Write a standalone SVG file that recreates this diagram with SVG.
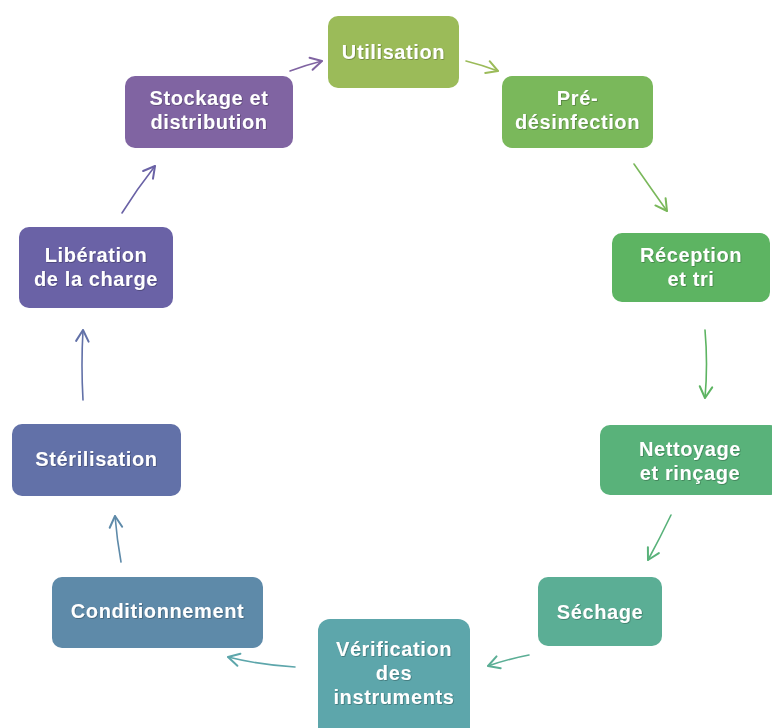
<svg xmlns="http://www.w3.org/2000/svg" width="772" height="728" viewBox="0 0 772 728">
<defs>
<style>
.box{stroke:none}
.lbl{font-family:"Liberation Sans",Arial,sans-serif;font-weight:bold;font-size:20px;letter-spacing:0.6px;fill:#ffffff;text-anchor:middle;filter:url(#sh)}
.c{fill:none;stroke-width:1.6;stroke-linecap:round}
</style>
<filter id="sh" x="-10%" y="-30%" width="120%" height="160%">
<feDropShadow dx="0.7" dy="0.7" stdDeviation="0.6" flood-color="#000" flood-opacity="0.35"/>
</filter>
<marker id="mPurple" markerUnits="userSpaceOnUse" markerWidth="20" markerHeight="20" refX="0" refY="0" viewBox="-12 -8 14 16" orient="auto"><path d="M-9,-5 L0,0 L-9,5" fill="none" stroke="#8064A2" stroke-width="1.6" stroke-linecap="round" stroke-linejoin="round"/></marker>
<marker id="mOlive" markerUnits="userSpaceOnUse" markerWidth="20" markerHeight="20" refX="0" refY="0" viewBox="-12 -8 14 16" orient="auto"><path d="M-9,-5 L0,0 L-9,5" fill="none" stroke="#9BBB59" stroke-width="1.6" stroke-linecap="round" stroke-linejoin="round"/></marker>
<marker id="mGreen1" markerUnits="userSpaceOnUse" markerWidth="20" markerHeight="20" refX="0" refY="0" viewBox="-12 -8 14 16" orient="auto"><path d="M-9,-5 L0,0 L-9,5" fill="none" stroke="#7AB85B" stroke-width="1.6" stroke-linecap="round" stroke-linejoin="round"/></marker>
<marker id="mGreen2" markerUnits="userSpaceOnUse" markerWidth="20" markerHeight="20" refX="0" refY="0" viewBox="-12 -8 14 16" orient="auto"><path d="M-9,-5 L0,0 L-9,5" fill="none" stroke="#5DB462" stroke-width="1.6" stroke-linecap="round" stroke-linejoin="round"/></marker>
<marker id="mGreen3" markerUnits="userSpaceOnUse" markerWidth="20" markerHeight="20" refX="0" refY="0" viewBox="-12 -8 14 16" orient="auto"><path d="M-9,-5 L0,0 L-9,5" fill="none" stroke="#59B27A" stroke-width="1.6" stroke-linecap="round" stroke-linejoin="round"/></marker>
<marker id="mTeal1" markerUnits="userSpaceOnUse" markerWidth="20" markerHeight="20" refX="0" refY="0" viewBox="-12 -8 14 16" orient="auto"><path d="M-9,-5 L0,0 L-9,5" fill="none" stroke="#5BAE95" stroke-width="1.6" stroke-linecap="round" stroke-linejoin="round"/></marker>
<marker id="mTeal2" markerUnits="userSpaceOnUse" markerWidth="20" markerHeight="20" refX="0" refY="0" viewBox="-12 -8 14 16" orient="auto"><path d="M-9,-5 L0,0 L-9,5" fill="none" stroke="#5DA6AB" stroke-width="1.6" stroke-linecap="round" stroke-linejoin="round"/></marker>
<marker id="mBlue1" markerUnits="userSpaceOnUse" markerWidth="20" markerHeight="20" refX="0" refY="0" viewBox="-12 -8 14 16" orient="auto"><path d="M-9,-5 L0,0 L-9,5" fill="none" stroke="#5E8AA9" stroke-width="1.6" stroke-linecap="round" stroke-linejoin="round"/></marker>
<marker id="mBlue2" markerUnits="userSpaceOnUse" markerWidth="20" markerHeight="20" refX="0" refY="0" viewBox="-12 -8 14 16" orient="auto"><path d="M-9,-5 L0,0 L-9,5" fill="none" stroke="#6271A8" stroke-width="1.6" stroke-linecap="round" stroke-linejoin="round"/></marker>
<marker id="mViolet" markerUnits="userSpaceOnUse" markerWidth="20" markerHeight="20" refX="0" refY="0" viewBox="-12 -8 14 16" orient="auto"><path d="M-9,-5 L0,0 L-9,5" fill="none" stroke="#6A62A6" stroke-width="1.6" stroke-linecap="round" stroke-linejoin="round"/></marker>
</defs>
<rect width="772" height="728" fill="#ffffff"/>
<g id="connectors">
<path class="c" d="M290,71 Q306,65 322,61" stroke="#8064A2" marker-end="url(#mPurple)"/>
<path class="c" d="M466,61 Q482,65 498,71" stroke="#9BBB59" marker-end="url(#mOlive)"/>
<path class="c" d="M634,164 Q650,187 667,211" stroke="#7AB85B" marker-end="url(#mGreen1)"/>
<path class="c" d="M705,330 Q708,364 705,398" stroke="#5DB462" marker-end="url(#mGreen2)"/>
<path class="c" d="M671,515 Q660,538 648,560" stroke="#59B27A" marker-end="url(#mGreen3)"/>
<path class="c" d="M529,655 Q508,659 488,666" stroke="#5BAE95" marker-end="url(#mTeal1)"/>
<path class="c" d="M295,667 Q260,665 228,657" stroke="#5DA6AB" marker-end="url(#mTeal2)"/>
<path class="c" d="M121,562 Q117,540 115,516" stroke="#5E8AA9" marker-end="url(#mBlue1)"/>
<path class="c" d="M83,400 Q81,365 83,330" stroke="#6271A8" marker-end="url(#mBlue2)"/>
<path class="c" d="M122,213 Q137,189 155,166" stroke="#6A62A6" marker-end="url(#mViolet)"/>
</g>
<g id="n-utilisation">
<rect class="box" x="328" y="16" width="131" height="72" rx="10" fill="#9BBB59"/>
<text class="lbl" x="393.5" y="59">Utilisation</text>
</g>
<g id="n-predesinfection">
<rect class="box" x="502" y="76" width="151" height="72" rx="10" fill="#7AB85B"/>
<text class="lbl" x="577.5" y="105">Pré-</text>
<text class="lbl" x="577.5" y="129">désinfection</text>
</g>
<g id="n-reception">
<rect class="box" x="612" y="233" width="158" height="69" rx="10" fill="#5DB462"/>
<text class="lbl" x="691" y="262">Réception</text>
<text class="lbl" x="691" y="286">et tri</text>
</g>
<g id="n-nettoyage">
<rect class="box" x="600" y="425" width="180" height="70" rx="10" fill="#59B27A"/>
<text class="lbl" x="690" y="456">Nettoyage</text>
<text class="lbl" x="690" y="480">et rinçage</text>
</g>
<g id="n-sechage">
<rect class="box" x="538" y="577" width="124" height="69" rx="10" fill="#5BAE95"/>
<text class="lbl" x="600" y="619">Séchage</text>
</g>
<g id="n-verification">
<rect class="box" x="318" y="619" width="152" height="120" rx="12" fill="#5DA6AB"/>
<text class="lbl" x="394" y="656">Vérification</text>
<text class="lbl" x="394" y="680">des</text>
<text class="lbl" x="394" y="704">instruments</text>
</g>
<g id="n-conditionnement">
<rect class="box" x="52" y="577" width="211" height="71" rx="10" fill="#5E8AA9"/>
<text class="lbl" x="157.5" y="618">Conditionnement</text>
</g>
<g id="n-sterilisation">
<rect class="box" x="12" y="424" width="169" height="72" rx="10" fill="#6271A8"/>
<text class="lbl" x="96.5" y="466">Stérilisation</text>
</g>
<g id="n-liberation">
<rect class="box" x="19" y="227" width="154" height="81" rx="10" fill="#6A62A6"/>
<text class="lbl" x="96" y="262">Libération</text>
<text class="lbl" x="96" y="286">de la charge</text>
</g>
<g id="n-stockage">
<rect class="box" x="125" y="76" width="168" height="72" rx="10" fill="#8064A2"/>
<text class="lbl" x="209" y="105">Stockage et</text>
<text class="lbl" x="209" y="129">distribution</text>
</g>
</svg>
